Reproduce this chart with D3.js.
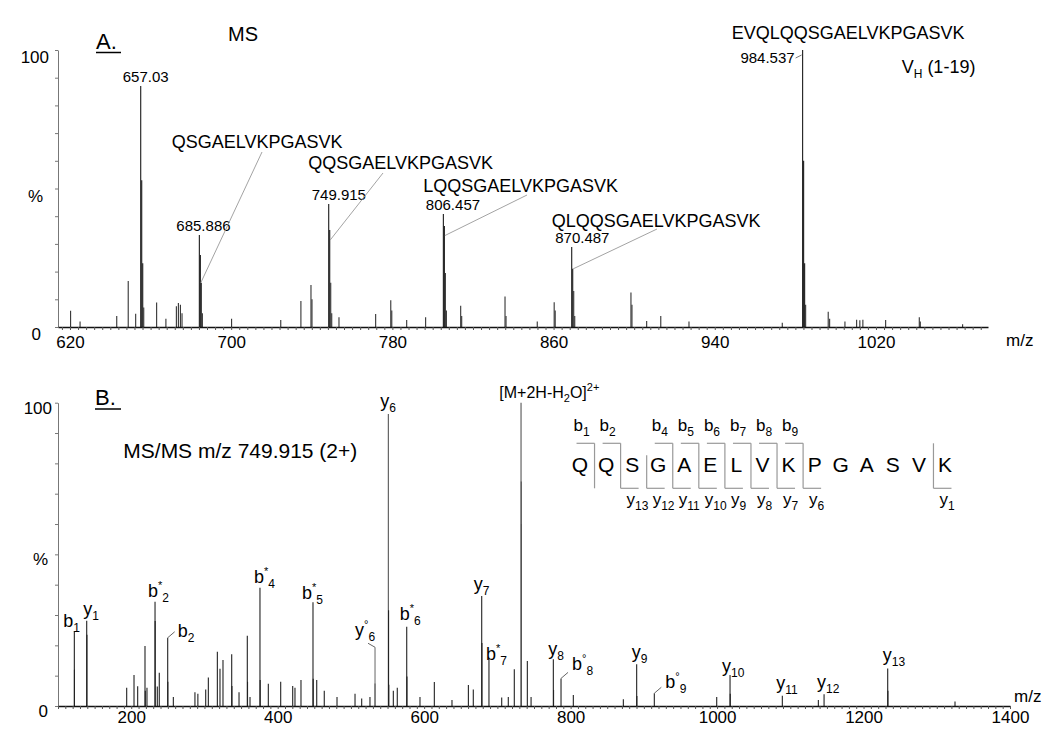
<!DOCTYPE html>
<html>
<head>
<meta charset="utf-8">
<script src="https://cdnjs.cloudflare.com/ajax/libs/d3/7.8.5/d3.min.js"></script>
<style>
  body { margin: 0; background: #fff; }
  svg { font-family: "Liberation Sans", Arial, sans-serif; }
</style>
</head>
<body>
<div id="chart"></div>
<script>
// ---- panel A : MS survey scan, [m/z, relative intensity %]
var msPeaks = [
  [620.3, 5.9], [625.0, 2.0], [643.2, 4.0], [648.9, 16.6], [652.6, 4.8],
  [655.1, 87.0], [655.6, 53], [656.1, 23], [656.6, 7],
  [663.0, 8.8], [667.6, 3.0], [672.8, 7.5], [673.8, 8.7], [674.8, 8.0], [675.6, 5.0],
  [684.2, 33.2], [684.7, 26], [685.2, 16], [685.7, 5],
  [700.2, 3.0], [724.6, 2.5], [734.6, 9.4], [739.6, 15.2], [740.1, 10],
  [748.4, 44.4], [748.9, 35], [749.4, 16], [749.9, 5],
  [753.5, 3.5], [771.7, 4.7], [779.2, 9.7], [779.7, 6], [787.1, 2.5], [796.5, 3.5],
  [805.3, 40.8], [805.8, 36.5], [806.3, 19.5], [806.8, 6],
  [813.9, 7.7], [814.4, 4], [835.9, 11], [836.4, 4], [851.9, 2],
  [860.3, 8.9], [860.8, 6],
  [869.0, 28.9], [869.5, 21], [870.0, 13], [870.5, 4],
  [898.4, 12.5], [898.9, 8], [906.2, 2.2], [913.2, 4], [927.2, 2], [973.5, 1.5],
  [983.6, 100], [984.1, 60], [984.6, 23], [985.1, 8],
  [996.3, 5.5], [997.0, 3], [1004.6, 2], [1010.4, 2.6], [1012.0, 2.4], [1013.5, 2.6],
  [1024.8, 2.5], [1041.5, 3.5], [1042.0, 2], [1063.0, 1.0]
];
var msMassLabels = [
  { mz: 655.1, text: "657.03" },
  { mz: 684.2, text: "685.886" },
  { mz: 748.4, text: "749.915" },
  { mz: 805.3, text: "806.457" },
  { mz: 869.0, text: "870.487" },
  { mz: 983.6, text: "984.537" }
];
var msPeptides = [
  { mz: 684.2, seq: "QSGAELVKPGASVK" },
  { mz: 748.4, seq: "QQSGAELVKPGASVK" },
  { mz: 805.3, seq: "LQQSGAELVKPGASVK" },
  { mz: 869.0, seq: "QLQQSGAELVKPGASVK" },
  { mz: 983.6, seq: "EVQLQQSGAELVKPGASVK" }
];
var msTicks = [620, 700, 780, 860, 940, 1020];

// ---- panel B : MS/MS of m/z 749.915 (2+)
var msmsPeaks = [
  [122.3, 24.7], [122.5, 12], [139.2, 28.1], [139.5, 23.5],
  [193.8, 6], [203.8, 10.2], [208.8, 6.5], [218.8, 19.8], [219.2, 5], [221.5, 6],
  [232.5, 34.4], [232.7, 28], [235.6, 6.4], [238.3, 11],
  [249.8, 22.5], [250.0, 8], [257.5, 3], [287.0, 4.5], [291.0, 4],
  [301.7, 5.4], [305.3, 9.4], [317.6, 17.9], [321.2, 12.3], [325.3, 15.2],
  [337.2, 17.1], [337.5, 6.6], [347.2, 4.5], [358.5, 23.2], [358.8, 8], [362.2, 3],
  [375.8, 39], [376.1, 8.6], [387.2, 7.3], [404.1, 8], [420.5, 6.6], [423.6, 6], [431.8, 8.6],
  [448.2, 34.2], [448.5, 9], [453.3, 8.6], [463.6, 5], [481.0, 3],
  [505.6, 4], [514.7, 2.5], [526.0, 3], [532.9, 7.5],
  [551.1, 96.3], [551.4, 31.6], [551.7, 7], [557.9, 5], [563.3, 6],
  [576.2, 26.1], [576.5, 9.7], [594.3, 3], [613.9, 7.9], [638.0, 2],
  [660.4, 6.9], [667.1, 5.4], [678.6, 36.3], [678.9, 20.8], [688.5, 15.8],
  [705.9, 2.8], [714.9, 3], [723.1, 12.1],
  [732.3, 100], [732.6, 74], [732.9, 60], [740.9, 14.8], [746.0, 3],
  [776.4, 15.4], [776.7, 5.3], [786.9, 9.1], [803.7, 3.6], [872.0, 2.2],
  [890.2, 13.8], [890.5, 3.3], [914.3, 4.2], [999.5, 3],
  [1017.7, 10.2], [1018.0, 4], [1089.1, 3.4], [1138.3, 2], [1146.1, 3.9],
  [1233.0, 12.4], [1233.3, 5], [1324.9, 1.5]
];
var msmsIons = [
  { mz: 122.3, ion: "b", mark: "", num: "1" },
  { mz: 139.2, ion: "y", mark: "", num: "1" },
  { mz: 232.5, ion: "b", mark: "*", num: "2" },
  { mz: 249.8, ion: "b", mark: "", num: "2" },
  { mz: 375.8, ion: "b", mark: "*", num: "4" },
  { mz: 448.2, ion: "b", mark: "*", num: "5" },
  { mz: 532.9, ion: "y", mark: "°", num: "6" },
  { mz: 551.1, ion: "y", mark: "", num: "6" },
  { mz: 576.2, ion: "b", mark: "*", num: "6" },
  { mz: 678.6, ion: "y", mark: "", num: "7" },
  { mz: 688.5, ion: "b", mark: "*", num: "7" },
  { mz: 776.4, ion: "y", mark: "", num: "8" },
  { mz: 786.9, ion: "b", mark: "°", num: "8" },
  { mz: 890.2, ion: "y", mark: "", num: "9" },
  { mz: 914.3, ion: "b", mark: "°", num: "9" },
  { mz: 1017.7, ion: "y", mark: "", num: "10" },
  { mz: 1089.1, ion: "y", mark: "", num: "11" },
  { mz: 1146.1, ion: "y", mark: "", num: "12" },
  { mz: 1233.0, ion: "y", mark: "", num: "13" }
];
var precursorMz = 732.3;
var msmsTicks = [200, 400, 600, 800, 1000, 1200, 1400];

var sequence = ["Q", "Q", "S", "G", "A", "E", "L", "V", "K", "P", "G", "A", "S", "V", "K"];
var bIons = [1, 2, 4, 5, 6, 7, 8, 9];
var yIons = [13, 12, 11, 10, 9, 8, 7, 6, 1];

(function() {
  var width = 1050, height = 747;
  var font = "Liberation Sans, Arial, sans-serif";

  var svg = d3.select("#chart")
    .append("svg")
    .attr("width", width)
    .attr("height", height);

  function intensityAt(peaks, mz) {
    return peaks.find(function(p) { return p[0] === mz })[1]
  }

  // ================= panel A =================
  var xTop = d3.scaleLinear().domain([614.05, 1075.6]).range([58, 988])
  var yTop = d3.scaleLinear().domain([0, 100]).range([327, 50])

  var gA = svg.append("g")

  gA.append("g")
    .attr("transform", "translate(58,0)")
    .call(d3.axisLeft(yTop).tickValues(d3.range(0, 101, 10)).tickSize(3).tickSizeOuter(0).tickFormat(""))
    .call(function(g) {
      g.select(".domain").attr("stroke", "#777")
      g.selectAll(".tick line").attr("stroke", "#777")
    })

  gA.selectAll(".msline")
    .data(msPeaks)
    .enter().append("line")
    .attr("class", "msline")
    .attr("x1", function(d) { return xTop(d[0]) })
    .attr("x2", function(d) { return xTop(d[0]) })
    .attr("y1", yTop(0))
    .attr("y2", function(d) { return yTop(d[1]) })
    .attr("stroke", function(d) { return d[1] > 20 ? "#1a1a1a" : "#333" })
    .attr("stroke-width", 1.1)

  gA.append("g")
    .attr("transform", "translate(0," + yTop(0) + ")")
    .call(d3.axisBottom(xTop).tickValues(d3.range(616, 1076, 4)).tickSize(3).tickSizeOuter(0)
      .tickFormat(function(d) { return msTicks.indexOf(d) >= 0 ? d : "" }))
    .attr("font-family", null)
    .attr("font-size", null)
    .call(function(g) {
      g.select(".domain").attr("stroke", "#111").attr("stroke-width", 1.6)
      g.selectAll(".tick line").attr("stroke", "#555")
      g.selectAll(".tick text").attr("y", 21).attr("dy", null)
        .attr("fill", "#000").style("font-size", "17px").style("font-family", font)
    })

  var yLabA = [{ t: "100", v: 100, dx: -9 }, { t: "%", v: 50, dx: -15 }, { t: "0", v: 0, dx: -17 }]
  gA.selectAll(".ylab")
    .data(yLabA)
    .enter().append("text")
    .attr("class", "ylab")
    .attr("x", function(d) { return 58 + d.dx })
    .attr("y", function(d) { return yTop(d.v) + 13 })
    .style("text-anchor", "end")
    .style("font-size", "17px")
    .text(function(d) { return d.t })

  gA.append("text").attr("x", 1006).attr("y", 346).style("font-size", "17px").text("m/z")

  gA.append("text").attr("x", 96).attr("y", 49).style("font-size", "22px").text("A.")
  gA.append("line").attr("x1", 96).attr("x2", 121).attr("y1", 52.5).attr("y2", 52.5)
    .attr("stroke", "#000").attr("stroke-width", 1.5)
  gA.append("text").attr("x", 228).attr("y", 41).style("font-size", "20px").text("MS")

  // mass labels above the peaks
  var massPos = {
    "657.03": { dx: -18, dy: -4, anchor: "start" },
    "685.886": { dx: -23, dy: -4, anchor: "start" },
    "749.915": { dx: -17, dy: -4, anchor: "start" },
    "806.457": { dx: -17.5, dy: -4, anchor: "start" },
    "870.487": { dx: -16.5, dy: -4, anchor: "start" },
    "984.537": { dx: -8, dy: 13, anchor: "end" }
  }
  gA.selectAll(".masslabel")
    .data(msMassLabels)
    .enter().append("text")
    .attr("class", "masslabel")
    .attr("x", function(d) { return xTop(d.mz) + massPos[d.text].dx })
    .attr("y", function(d) { return yTop(intensityAt(msPeaks, d.mz)) + massPos[d.text].dy })
    .style("text-anchor", function(d) { return massPos[d.text].anchor })
    .style("font-size", "15px")
    .text(function(d) { return d.text })

  var bp = msMassLabels[5]
  gA.append("path")
    .attr("d", "M" + (xTop(bp.mz) - 7) + "," + (yTop(100) + 8) + "L" + (xTop(bp.mz) - 1) + "," + (yTop(100) + 5))
    .attr("stroke", "#777").attr("fill", "none")

  // peptide labels with leader lines
  var pepPos = [
    { x: 171.7, y: 148, lx: 262, ly: 152, at: 16 },
    { x: 308.3, y: 169, lx: 383, ly: 173, at: 31.4 },
    { x: 423.3, y: 192, lx: 527, ly: 195, at: 33 },
    { x: 551.7, y: 227, lx: 657, ly: 229, at: 21 },
    { x: 731.7, y: 39, lx: null }
  ]
  gA.selectAll(".peptide")
    .data(msPeptides)
    .enter().append("text")
    .attr("class", "peptide")
    .attr("x", function(d, i) { return pepPos[i].x })
    .attr("y", function(d, i) { return pepPos[i].y })
    .style("font-size", "18px")
    .text(function(d) { return d.seq })

  gA.selectAll(".leader")
    .data(msPeptides.filter(function(d, i) { return pepPos[i].lx !== null }))
    .enter().append("line")
    .attr("class", "leader")
    .attr("x1", function(d, i) { return pepPos[i].lx })
    .attr("y1", function(d, i) { return pepPos[i].ly })
    .attr("x2", function(d) { return xTop(d.mz) + 1.5 })
    .attr("y2", function(d, i) { return yTop(pepPos[i].at) })
    .attr("stroke", "#999")
    .attr("stroke-width", 0.9)

  var vh = gA.append("text").attr("x", 901.7).attr("y", 73).style("font-size", "18px")
  vh.append("tspan").text("V")
  vh.append("tspan").attr("dy", 5).style("font-size", "12px").text("H")
  vh.append("tspan").attr("dy", -5).text(" (1-19)")

  // ================= panel B =================
  var xBot = d3.scaleLinear().domain([100, 1400]).range([58, 1010])
  var yBot = d3.scaleLinear().domain([0, 100]).range([706, 402.7])

  var gB = svg.append("g")

  gB.append("g")
    .attr("transform", "translate(58,0)")
    .call(d3.axisLeft(yBot).tickValues(d3.range(0, 101, 10)).tickSize(3).tickSizeOuter(0).tickFormat(""))
    .call(function(g) {
      g.select(".domain").attr("stroke", "#777")
      g.selectAll(".tick line").attr("stroke", "#777")
    })

  gB.selectAll(".msmsline")
    .data(msmsPeaks)
    .enter().append("line")
    .attr("class", "msmsline")
    .attr("x1", function(d) { return xBot(d[0]) })
    .attr("x2", function(d) { return xBot(d[0]) })
    .attr("y1", yBot(0))
    .attr("y2", function(d) { return yBot(d[1]) })
    .attr("stroke", function(d) { return d[1] > 50 ? "#555" : "#222" })
    .attr("stroke-width", 1.1)

  gB.append("g")
    .attr("transform", "translate(0," + yBot(0) + ")")
    .call(d3.axisBottom(xBot).tickValues(d3.range(100, 1401, 10)).tickSize(3).tickSizeOuter(0)
      .tickFormat(function(d) { return msmsTicks.indexOf(d) >= 0 ? d : "" }))
    .attr("font-family", null)
    .attr("font-size", null)
    .call(function(g) {
      g.select(".domain").attr("stroke", "#111").attr("stroke-width", 1.6)
      g.selectAll(".tick line").attr("stroke", "#555")
      g.selectAll(".tick text").attr("y", 17).attr("dy", null)
        .attr("fill", "#000").style("font-size", "17px").style("font-family", font)
    })

  var yLabB = [{ t: "100", v: 100, dx: -6 }, { t: "%", v: 50, dx: -10 }, { t: "0", v: 0, dx: -10 }]
  gB.selectAll(".ylab")
    .data(yLabB)
    .enter().append("text")
    .attr("class", "ylab")
    .attr("x", function(d) { return 58 + d.dx })
    .attr("y", function(d) { return yBot(d.v) + 11 })
    .style("text-anchor", "end")
    .style("font-size", "17px")
    .text(function(d) { return d.t })

  gB.append("text").attr("x", 1014).attr("y", 702).style("font-size", "17px").text("m/z")

  gB.append("text").attr("x", 95).attr("y", 405).style("font-size", "22px").text("B.")
  gB.append("line").attr("x1", 95).attr("x2", 121).attr("y1", 409).attr("y2", 409)
    .attr("stroke", "#000").attr("stroke-width", 1.5)
  gB.append("text").attr("x", 123.3).attr("y", 458).style("font-size", "21px").text("MS/MS m/z 749.915 (2+)")

  // ion labels, offsets from the peak top
  var ionPos = {
    "b1": [-11, -4], "y1": [-3.5, -6], "b*2": [-7, -5], "b2": [10, -1],
    "b*4": [-6, -5], "b*5": [-11, -3], "y°6": [-20, -47], "y6": [-8, -7],
    "b*6": [-7, -7], "y7": [-8, -6], "b*7": [-3, 2], "y8": [-5, -4],
    "b°8": [11, -8], "y9": [-5, -6], "b°9": [11, -5], "y10": [-8, -3],
    "y11": [-6, -7], "y12": [-7, -6], "y13": [-5, -7]
  }
  function key(d) { return d.ion + d.mark + d.num }

  var ionText = gB.selectAll(".ion")
    .data(msmsIons)
    .enter().append("text")
    .attr("class", "ion")
    .attr("x", function(d) { return xBot(d.mz) + ionPos[key(d)][0] })
    .attr("y", function(d) { return yBot(intensityAt(msmsPeaks, d.mz)) + ionPos[key(d)][1] })
    .style("font-size", "18px")

  ionText.append("tspan").text(function(d) { return d.ion })
  ionText.filter(function(d) { return d.mark !== "" })
    .append("tspan").attr("dy", -8).style("font-size", "11px").text(function(d) { return d.mark })
  ionText.append("tspan")
    .attr("dy", function(d) { return d.mark !== "" ? 13 : 5 })
    .style("font-size", "12px")
    .text(function(d) { return d.num })

  // short leaders for labels set to the right of their peak
  var shortLead = msmsIons.filter(function(d) { return ionPos[key(d)][0] > 0 })
  gB.selectAll(".ionlead")
    .data(shortLead)
    .enter().append("path")
    .attr("class", "ionlead")
    .attr("d", function(d) {
      var px = xBot(d.mz), py = yBot(intensityAt(msmsPeaks, d.mz))
      return "M" + px + "," + py + "L" + (px + 7) + "," + (py - 6)
    })
    .attr("stroke", "#666").attr("fill", "none")

  var yc = msmsIons[6]
  var ycx = xBot(yc.mz), ycy = yBot(intensityAt(msmsPeaks, yc.mz))
  gB.append("path")
    .attr("d", "M" + (ycx - 7) + "," + (ycy - 40) + "L" + ycx + "," + (ycy - 36) + "L" + ycx + "," + ycy)
    .attr("stroke", "#666").attr("fill", "none")

  var prec = gB.append("text")
    .attr("x", xBot(precursorMz) - 21.7)
    .attr("y", yBot(100) - 4.4)
    .style("font-size", "16px")
  prec.append("tspan").text("[M+2H-H")
  prec.append("tspan").attr("dy", 4).style("font-size", "11px").text("2")
  prec.append("tspan").attr("dy", -4).text("O]")
  prec.append("tspan").attr("dy", -7).style("font-size", "11px").text("2+")

  // ---- peptide sequence with fragment brackets
  var seqX = d3.scalePoint().domain(d3.range(sequence.length)).range([580, 945])
  var step = seqX.step()
  function cutX(n) { return seqX(n - 1) + step / 2 + 1.5 }
  var topY = 443.3, botY = 488.3

  gB.selectAll(".residue")
    .data(sequence)
    .enter().append("text")
    .attr("class", "residue")
    .attr("x", function(d, i) { return seqX(i) })
    .attr("y", 471.7)
    .style("text-anchor", "middle")
    .style("font-size", "21px")
    .text(function(d) { return d })

  var cuts = d3.union(bIons, yIons.map(function(k) { return sequence.length - k }))
  cuts = Array.from(cuts).sort(d3.ascending)

  gB.selectAll(".cut")
    .data(cuts)
    .enter().append("line")
    .attr("class", "cut")
    .attr("x1", function(n) { return cutX(n) })
    .attr("x2", function(n) { return cutX(n) })
    .attr("y1", function(n) { return bIons.indexOf(n) >= 0 || n === 14 ? topY : topY + 12 })
    .attr("y2", botY)
    .attr("stroke", "#999")
    .attr("stroke-width", 1.2)

  gB.selectAll(".bbar")
    .data(bIons)
    .enter().append("line")
    .attr("class", "bbar")
    .attr("x1", function(n) { return cutX(n) - 18 })
    .attr("x2", function(n) { return cutX(n) })
    .attr("y1", topY).attr("y2", topY)
    .attr("stroke", "#999").attr("stroke-width", 1.2)

  gB.selectAll(".ybar")
    .data(yIons)
    .enter().append("line")
    .attr("class", "ybar")
    .attr("x1", function(k) { return cutX(sequence.length - k) })
    .attr("x2", function(k) { return cutX(sequence.length - k) + 18 })
    .attr("y1", botY).attr("y2", botY)
    .attr("stroke", "#999").attr("stroke-width", 1.2)

  var bLab = gB.selectAll(".blab")
    .data(bIons)
    .enter().append("text")
    .attr("class", "blab")
    .attr("x", function(n) { return cutX(n) - 21 })
    .attr("y", 431)
    .style("font-size", "17px")
  bLab.append("tspan").text("b")
  bLab.append("tspan").attr("dy", 5).style("font-size", "12px").text(function(n) { return n })

  var yLab = gB.selectAll(".ylabion")
    .data(yIons)
    .enter().append("text")
    .attr("class", "ylabion")
    .attr("x", function(k) { return cutX(sequence.length - k) + 6 })
    .attr("y", 505)
    .style("font-size", "17px")
  yLab.append("tspan").text("y")
  yLab.append("tspan").attr("dy", 5).style("font-size", "12px").text(function(k) { return k })
})();
</script>
</body>
</html>
